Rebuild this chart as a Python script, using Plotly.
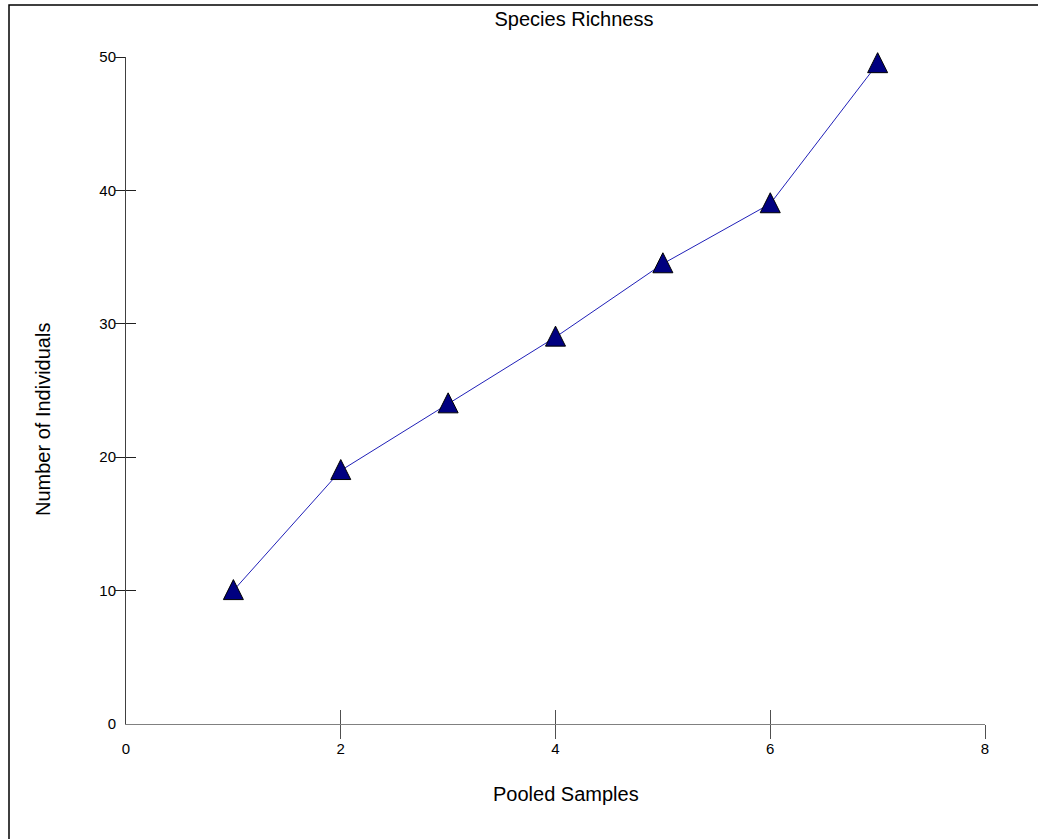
import plotly.graph_objects as go

pooled_samples = [1, 2, 3, 4, 5, 6, 7]
individuals = [10, 19, 24, 29, 34.5, 39, 49.5]
x_tick_vals = [0, 2, 4, 6, 8]
y_tick_vals = [0, 10, 20, 30, 40, 50]

FONT = "Liberation Sans, Arial, sans-serif"
W, H = 1038, 839
L, R, T, B = 126, 53, 30, 115      # figure margins
AXIS_TOP = 57                      # pixel row of y = 50
PW, PH = W - L - R, H - T - B      # paper (plot area) size
Y_RANGE = [0, 50]
main_top = (H - B - AXIS_TOP) / PH
units_per_px = (Y_RANGE[1] - Y_RANGE[0]) / (H - B - AXIS_TOP)

# arrow-up markers have their tip on the data point; lift the marker layer so
# the triangle is centred on the point (pixel offset -> data units)
MARKER_LIFT_PX = 11
lift = MARKER_LIFT_PX * units_per_px
marker_range = [Y_RANGE[0] - lift, Y_RANGE[0] - lift + PH * units_per_px]

fig = go.Figure()
fig.add_trace(go.Scatter(
    x=pooled_samples, y=individuals, mode="lines",
    line=dict(color="#2020b8", width=1),
    showlegend=False, hoverinfo="x+y",
))
fig.add_trace(go.Scatter(
    x=pooled_samples, y=individuals, mode="markers", yaxis="y4", cliponaxis=False,
    marker=dict(symbol="arrow-up", size=20, color="#000080",
                line=dict(color="black", width=1)),
    showlegend=False, hoverinfo="skip",
))

common_x = dict(range=[0, 8], showgrid=False, zeroline=False, fixedrange=True)
common_y = dict(range=Y_RANGE, showgrid=False, zeroline=False, fixedrange=True)

def py(ypx):
    return (H - B - ypx) / PH

def px(xpx):
    return (xpx - L) / PW

fig.update_layout(
    width=W, height=H,
    margin=dict(l=L, r=R, t=T, b=B),
    paper_bgcolor="white", plot_bgcolor="rgba(0,0,0,0)",
    font=dict(family=FONT, size=15, color="black"),
    title=dict(text="Species Richness", x=574 / W, xref="container", xanchor="center",
               y=1 - 19 / H, yref="container", yanchor="middle",
               font=dict(family=FONT, size=20, color="black")),
    xaxis=dict(**common_x, tickvals=x_tick_vals, ticks="", showline=True,
               linecolor="#808080", linewidth=1, ticklabelstandoff=11,
               tickfont=dict(family=FONT, size=15, color="black")),
    xaxis2=dict(**common_x, overlaying="x", anchor="y", side="bottom",
                tickvals=x_tick_vals[1:], ticks="outside", ticklen=14,
                tickcolor="#505050", tickwidth=1, showticklabels=False, showline=False),
    xaxis3=dict(**common_x, overlaying="x", anchor="y", side="bottom",
                tickvals=x_tick_vals[1:], ticks="inside", ticklen=14,
                tickcolor="#505050", tickwidth=1, showticklabels=False, showline=False),
    yaxis=dict(**common_y, domain=[0, main_top], tickvals=y_tick_vals, ticks="",
               showline=True, linecolor="#404040", linewidth=1, ticklabelstandoff=6,
               tickfont=dict(family=FONT, size=15, color="black")),
    yaxis2=dict(**common_y, overlaying="y", anchor="x", side="left",
                tickvals=y_tick_vals[1:], ticks="outside", ticklen=10,
                tickcolor="#202020", tickwidth=1, showticklabels=False, showline=False),
    yaxis3=dict(**common_y, overlaying="y", anchor="x", side="left",
                tickvals=y_tick_vals[1:], ticks="inside", ticklen=10,
                tickcolor="#202020", tickwidth=1, showticklabels=False, showline=False),
    yaxis4=dict(range=marker_range, domain=[0, 1], anchor="x",
                visible=False, showgrid=False, zeroline=False, fixedrange=True),
    annotations=[
        dict(text="Pooled Samples", xref="paper", yref="paper",
             x=px(566), y=py(794),
             xanchor="center", yanchor="middle", showarrow=False,
             font=dict(family=FONT, size=20, color="black")),
        dict(text="Number of Individuals", xref="paper", yref="paper",
             x=px(43), y=py(420),
             xanchor="center", yanchor="middle", showarrow=False, textangle=-90,
             font=dict(family=FONT, size=20, color="black")),
    ],
    shapes=[
        dict(type="rect", xref="paper", yref="paper",
             x0=px(9), x1=px(W + 60), y0=py(H + 60), y1=py(5),
             line=dict(color="black", width=1.5), layer="above"),
    ],
)

# invisible traces bind overlay tick axes so they render
fig.add_trace(go.Scatter(x=[None], y=[None], xaxis="x2", yaxis="y2", showlegend=False, hoverinfo="skip"))
fig.add_trace(go.Scatter(x=[None], y=[None], xaxis="x3", yaxis="y3", showlegend=False, hoverinfo="skip"))

fig.write_html("out.html", config={"displayModeBar": False})
